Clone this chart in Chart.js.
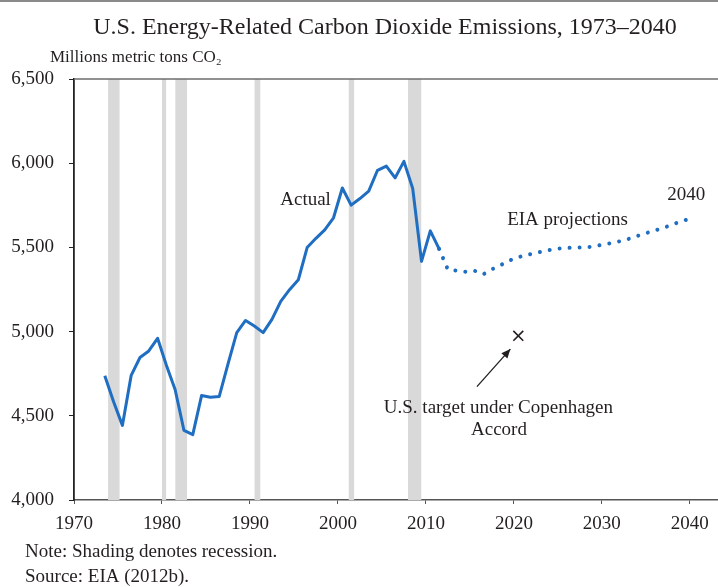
<!DOCTYPE html>
<html>
<head>
<meta charset="utf-8">
<script src="https://cdn.jsdelivr.net/npm/chart.js@4.4.1/dist/chart.umd.min.js"></script>
<style>
  html, body { margin: 0; padding: 0; background: #ffffff; }
  #wrap { width: 718px; height: 587px; position: relative; }
</style>
</head>
<body>
<div id="wrap"><canvas id="c" width="718" height="587"></canvas></div>
<script>
// ---------------- DATA ----------------
const actualYears = [1973,1974,1975,1976,1977,1978,1979,1980,1981,1982,1983,1984,1985,1986,1987,1988,1989,1990,1991,1992,1993,1994,1995,1996,1997,1998,1999,2000,2001,2002,2003,2004,2005,2006,2007,2008,2009,2010,2011];
const actualValues = [4738,4583,4443,4740,4846,4885,4960,4800,4655,4413,4388,4620,4610,4614,4807,4994,5066,5033,4994,5073,5180,5249,5308,5499,5554,5604,5676,5853,5751,5790,5834,5958,5983,5913,6011,5850,5417,5598,5491];
const projectionYears = [2011,2012,2013,2014,2015,2016,2017,2018,2019,2020,2021,2022,2023,2024,2025,2026,2027,2028,2029,2030,2031,2032,2033,2034,2035,2036,2037,2038,2039,2040];
const projectionValues = [5491,5368,5362,5355,5362,5340,5370,5395,5422,5442,5455,5468,5478,5490,5495,5498,5499,5502,5510,5520,5530,5542,5558,5576,5592,5608,5625,5645,5662,5678];
const targetYear = 2020;
const targetValue = 4975;
// recession periods as fractional years [start, end]
const recessionStarts = [1973.87, 1980.0, 1981.5, 1990.5, 2001.2, 2007.95];
const recessionEnds   = [1975.2, 1980.5, 1982.87, 1991.2, 2001.87, 2009.5];
const xTickValues = [1970,1980,1990,2000,2010,2020,2030,2040];
const yTickValues = [4000,4500,5000,5500,6000,6500];

// ---------------- CHART ----------------
const MID_YEAR = 0.5; // annual values plotted at mid-year
const BLUE = '#1f6ec2';
const INK = '#231f20';
const SERIF = '"Liberation Serif", "DejaVu Serif", serif';

const toPts = (xs, ys) => xs.map((yr, i) => ({ x: yr + MID_YEAR, y: ys[i] }));

const bandDatasets = recessionStarts.map((s, i) => ({
  type: 'line',
  data: [{ x: s, y: yTickValues[yTickValues.length - 1] }, { x: recessionEnds[i], y: yTickValues[yTickValues.length - 1] }],
  borderWidth: 0,
  pointRadius: 0,
  backgroundColor: '#d9d9d9',
  fill: 'start',
  order: 10
}));

const annotationPlugin = {
  id: 'annotationsAndText',
  afterDraw(chart) {
    const ctx = chart.ctx;
    const xs = chart.scales.x, ys = chart.scales.y;
    const area = chart.chartArea;
    ctx.save();
    // top frame of scan
    ctx.fillStyle = '#8a8a8a';
    ctx.fillRect(0, 0, 718, 2);
    // top border of plot
    ctx.strokeStyle = '#6d6d6d';
    ctx.lineWidth = 1.5;
    ctx.beginPath();
    ctx.moveTo(area.left, area.top);
    ctx.lineTo(area.right, area.top);
    ctx.stroke();

    ctx.fillStyle = INK;
    ctx.textBaseline = 'middle';
    // title
    ctx.textAlign = 'center';
    ctx.font = '24px ' + SERIF;
    ctx.fillText('U.S. Energy-Related Carbon Dioxide Emissions, 1973\u20132040', 385, 28);
    // unit label
    ctx.textAlign = 'left';
    ctx.font = '17px ' + SERIF;
    ctx.fillText('Millions metric tons CO\u2082', 50, 58);
    // footnotes
    ctx.font = '19px ' + SERIF;
    ctx.fillText('Note: Shading denotes recession.', 25, 552);
    ctx.fillText('Source: EIA (2012b).', 25, 577);

    // in-plot annotations (data coordinates)
    ctx.font = '19px ' + SERIF;
    ctx.textAlign = 'right';
    ctx.fillText('Actual', xs.getPixelForValue(1999.2), ys.getPixelForValue(5783));
    ctx.textAlign = 'center';
    ctx.fillText('EIA projections', xs.getPixelForValue(2026.1), ys.getPixelForValue(5665));
    ctx.fillText('2040', xs.getPixelForValue(2039.6), ys.getPixelForValue(5814));
    ctx.fillText('U.S. target under Copenhagen', xs.getPixelForValue(2018.24), ys.getPixelForValue(4547));
    ctx.fillText('Accord', xs.getPixelForValue(2018.3), ys.getPixelForValue(4417));

    // arrow
    const x1 = xs.getPixelForValue(2015.8), y1 = ys.getPixelForValue(4673);
    const x2 = xs.getPixelForValue(2019.6), y2 = ys.getPixelForValue(4896);
    ctx.strokeStyle = INK;
    ctx.lineWidth = 1.3;
    ctx.beginPath();
    ctx.moveTo(x1, y1);
    ctx.lineTo(x2, y2);
    ctx.stroke();
    const ang = Math.atan2(y2 - y1, x2 - x1);
    const L = 9, W = 4;
    ctx.beginPath();
    ctx.moveTo(x2, y2);
    ctx.lineTo(x2 - L * Math.cos(ang) + W * Math.sin(ang), y2 - L * Math.sin(ang) - W * Math.cos(ang));
    ctx.lineTo(x2 - L * Math.cos(ang) - W * Math.sin(ang), y2 - L * Math.sin(ang) + W * Math.cos(ang));
    ctx.closePath();
    ctx.fillStyle = INK;
    ctx.fill();
    ctx.restore();
  }
};

new Chart(document.getElementById('c'), {
  type: 'line',
  data: {
    datasets: [
      {
        label: 'Actual',
        data: toPts(actualYears, actualValues),
        borderColor: BLUE,
        borderWidth: 3,
        pointRadius: 0,
        fill: false,
        tension: 0,
        borderJoinStyle: 'round',
        order: 1
      },
      {
        label: 'EIA projections',
        data: toPts(projectionYears, projectionValues),
        borderColor: BLUE,
        borderWidth: 4,
        borderDash: [0.01, 10],
        borderCapStyle: 'round',
        pointRadius: 0,
        fill: false,
        tension: 0,
        order: 1
      },
      {
        label: 'Copenhagen target',
        type: 'scatter',
        data: [{ x: targetYear + MID_YEAR, y: targetValue }],
        pointStyle: 'crossRot',
        pointRadius: 7,
        borderColor: INK,
        borderWidth: 1.6,
        showLine: false,
        order: 0
      },
      ...bandDatasets
    ]
  },
  options: {
    responsive: false,
    animation: false,
    events: [],
    layout: { autoPadding: false, padding: { top: 79, right: 0, left: 0, bottom: 0 } },
    plugins: {
      legend: { display: false },
      tooltip: { enabled: false },
      title: { display: false }
    },
    scales: {
      x: {
        type: 'linear',
        min: 1970,
        max: 2043.2,
        afterFit(scale) { scale.height = 87; scale.paddingLeft = 0; scale.paddingRight = 0; },
        afterBuildTicks(scale) { scale.ticks = xTickValues.map(v => ({ value: v })); },
        ticks: {
          callback: v => String(v),
          font: { family: SERIF, size: 19 },
          color: INK,
          padding: 9,
          maxRotation: 0,
          autoSkip: false
        },
        grid: { drawOnChartArea: false, drawTicks: true, tickLength: 4, color: '#555' },
        border: { display: true, color: '#555', width: 1.5 }
      },
      y: {
        type: 'linear',
        min: 4000,
        max: 6500,
        afterFit(scale) { scale.width = 74; scale.paddingTop = 0; scale.paddingBottom = 0; },
        afterBuildTicks(scale) { scale.ticks = yTickValues.map(v => ({ value: v })); },
        ticks: {
          callback: v => v.toLocaleString('en-US'),
          font: { family: SERIF, size: 19 },
          color: INK,
          padding: 15
        },
        grid: { drawOnChartArea: false, drawTicks: true, tickLength: 5, color: '#222' },
        border: { display: true, color: '#222', width: 1.8 }
      }
    }
  },
  plugins: [annotationPlugin]
});
</script>
</body>
</html>
